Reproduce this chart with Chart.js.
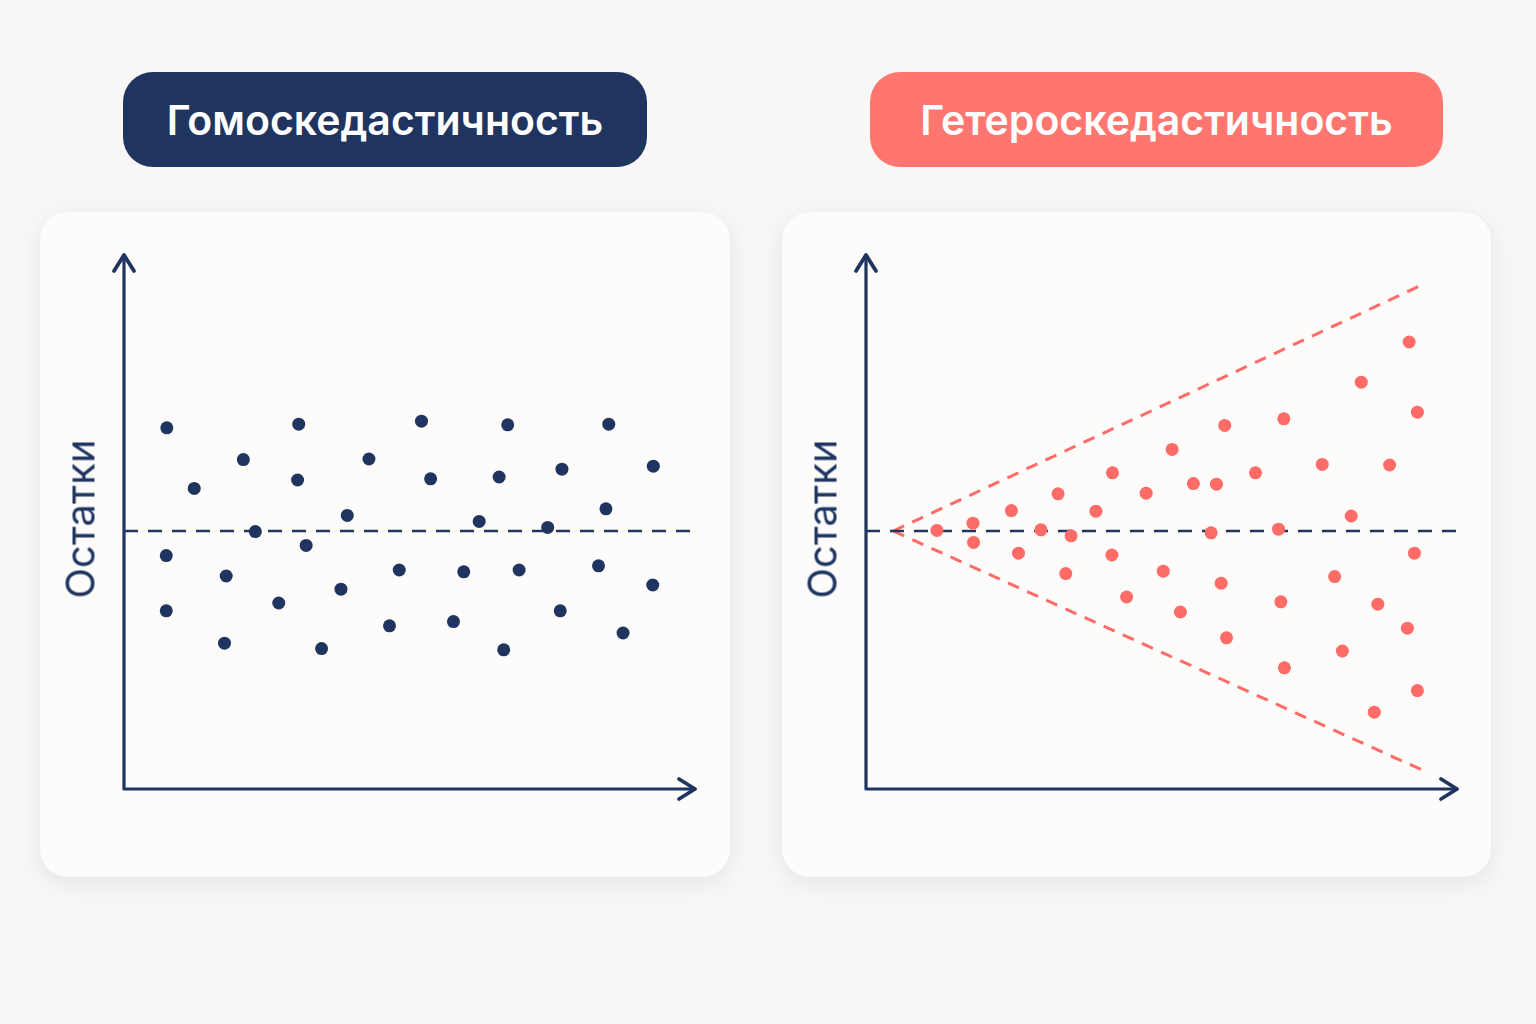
<!DOCTYPE html>
<html lang="ru">
<head>
<meta charset="utf-8">
<script src="https://cdn.jsdelivr.net/npm/chart.js@4.4.1/dist/chart.umd.min.js"></script>
<style>
    html, body { margin: 0; padding: 0; }
    body {
        width: 1536px; height: 1024px; position: relative; overflow: hidden;
        background: #f8f7f5; font-family: Inter, "Noto Sans", sans-serif;
    }
    .pill {
        position: absolute; top: 72px; height: 95px; border-radius: 30px;
        color: #fff; font-size: 41px; font-weight: 600;
        display: flex; align-items: center; justify-content: center;
    }
    .card {
        position: absolute; top: 212px; height: 665px; border-radius: 28px;
        background: #fdfcfb; box-shadow: 0 6px 24px rgba(0, 0, 0, 0.08);
    }
    .card canvas { position: absolute; left: 0; top: 0; }
    .ylabel {
        position: absolute; top: 519px; color: #1f3560; font-size: 40px;
        transform: translate(-50%, -50%) rotate(-90deg); white-space: nowrap;
    }
</style>
</head>
<body>
<div class="pill" style="left:123px; width:524px; background:#1f3560;">Гомоскедастичность</div>
<div class="pill" style="left:870px; width:573px; background:#ff7670;">Гетероскедастичность</div>

<div class="card" style="left:40px; width:690px;"><canvas id="homoChart" width="690" height="665"></canvas></div>
<div class="card" style="left:782px; width:709px;"><canvas id="heteroChart" width="709" height="665"></canvas></div>

<div class="ylabel" style="left:80px;">Остатки</div>
<div class="ylabel" style="left:822px;">Остатки</div>

<script>
// Residual plots: fitted value (x) vs residual (y)

const COLORS = {
    navy: '#1f3560',
    coral: '#ff6b66'
};

// Homoscedastic residuals
const homoX = [0.75, 3.06, 5.21, 2.09, 4.29, 1.23, 3.04, 3.91, 2.30, 3.19, 0.74, 1.79, 4.82, 3.80, 2.71, 0.74, 4.65, 1.76,
               3.46, 6.72, 8.49, 5.37, 6.57, 7.67, 9.27, 8.44, 6.22, 7.42, 5.95, 6.92, 8.31, 9.26, 7.64, 5.77, 8.74, 6.65];
const homoY = [1.72, 1.78, 1.83, 1.19, 1.20, 0.71, 0.85, 0.26, -0.01, -0.24, -0.41, -0.75, -0.65, -0.97, -1.20, -1.33, -1.58, -1.87,
               -1.96, 1.77, 1.78, 0.87, 0.90, 1.03, 1.08, 0.37, 0.16, 0.06, -0.68, -0.65, -0.58, -0.90, -1.33, -1.51, -1.70, -1.98];

// Heteroscedastic residuals (spread grows with x)
const heteroX = [1.20, 1.81, 1.82, 2.46, 2.58, 2.96, 3.47, 3.25, 3.38, 3.89, 4.16, 4.17, 4.74, 4.41, 5.03, 5.18, 9.19, 8.38, 9.33,
                 6.07, 7.07, 6.59, 7.72, 8.86, 5.54, 5.93, 8.21, 5.84, 6.98, 9.28, 6.01, 7.93, 5.32, 7.02, 8.66, 9.16, 6.10,
                 8.06, 7.08, 9.33, 8.60];
const heteroY = [0.01, 0.13, -0.19, 0.34, -0.37, 0.02, -0.08, 0.62, -0.71, 0.33, -0.40, 0.97, 0.63, -1.10, -0.67, 1.36, 3.15, 2.48, 1.98,
                 1.76, 1.87, 0.97, 1.11, 1.10, 0.79, 0.78, 0.25, -0.03, 0.03, -0.37, -0.87, -0.76, -1.35, -1.18, -1.22, -1.62, -1.78,
                 -2.00, -2.28, -2.66, -3.02];

// Cone envelope
const coneX = [0.46, 9.47];
const coneUpper = [0, 4.13];
const coneLower = [0, -4.01];

const zeroX = [0, 10];
const zeroY = [0, 0];

const toPoints = (xs, ys) => xs.map((x, i) => ({ x: x, y: ys[i] }));

// Draws the two axes with arrow heads at the chart area edges
const arrowAxes = {
    id: 'arrowAxes',
    afterDraw(chart) {
        const { ctx, chartArea: a } = chart;
        ctx.save();
        ctx.strokeStyle = COLORS.navy;
        ctx.lineWidth = 3.2;
        ctx.lineCap = 'round';
        ctx.lineJoin = 'round';
        ctx.beginPath();
        ctx.moveTo(a.left, a.top);
        ctx.lineTo(a.left, a.bottom);
        ctx.lineTo(a.right, a.bottom);
        ctx.stroke();
        ctx.lineWidth = 3.8;
        ctx.beginPath();
        ctx.moveTo(a.left - 10, a.top + 16);
        ctx.lineTo(a.left, a.top);
        ctx.lineTo(a.left + 10, a.top + 16);
        ctx.moveTo(a.right - 16, a.bottom - 10);
        ctx.lineTo(a.right, a.bottom);
        ctx.lineTo(a.right - 16, a.bottom + 10);
        ctx.stroke();
        ctx.restore();
    }
};

function baseOptions(padRight) {
    return {
        responsive: false,
        animation: false,
        layout: { padding: { left: 84, top: 43, right: padRight, bottom: 88 } },
        plugins: { legend: { display: false }, tooltip: { enabled: false } },
        scales: {
            x: { type: 'linear', min: 0, max: 10, display: false },
            y: { type: 'linear', min: -4.3, max: 4.6, display: false }
        }
    };
}

function lineSet(xs, ys, color, dash, width) {
    return {
        type: 'line',
        data: toPoints(xs, ys),
        borderColor: color,
        borderWidth: width,
        borderDash: dash,
        pointRadius: 0,
        fill: false,
        order: 2
    };
}

new Chart(document.getElementById('homoChart'), {
    type: 'scatter',
    data: {
        datasets: [
            lineSet(zeroX, zeroY, COLORS.navy, [14, 10], 2.6),
            {
                data: toPoints(homoX, homoY),
                backgroundColor: COLORS.navy,
                borderWidth: 0,
                pointRadius: 6.5,
                order: 0
            }
        ]
    },
    options: baseOptions(35),
    plugins: [arrowAxes]
});

new Chart(document.getElementById('heteroChart'), {
    type: 'scatter',
    data: {
        datasets: [
            lineSet(zeroX, zeroY, COLORS.navy, [14, 10], 2.6),
            lineSet(coneX, coneUpper, COLORS.coral, [12, 9], 3),
            lineSet(coneX, coneLower, COLORS.coral, [12, 9], 3),
            {
                data: toPoints(heteroX, heteroY),
                backgroundColor: COLORS.coral,
                borderWidth: 0,
                pointRadius: 6.5,
                order: 0
            }
        ]
    },
    options: baseOptions(34),
    plugins: [arrowAxes]
});
</script>
</body>
</html>
